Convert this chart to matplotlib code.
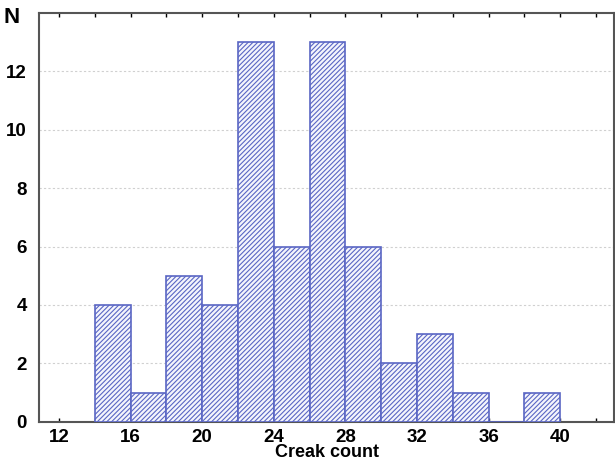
import numpy as np
import matplotlib
matplotlib.use("Agg")
import matplotlib.pyplot as plt

# histogram of creak counts, bin width 2
bin_left = [14, 16, 18, 20, 22, 24, 26, 28, 30, 32, 34, 36, 38]
counts = [4, 1, 5, 4, 13, 6, 13, 6, 2, 3, 1, 0, 1]
xticks = [12, 16, 20, 24, 28, 32, 36, 40]
yticks = [0, 2, 4, 6, 8, 10, 12]

plt.rcParams['font.family'] = ['Liberation Sans', 'DejaVu Sans']
plt.rcParams['hatch.linewidth'] = 0.8
plt.rcParams['hatch.color'] = '#5a66c4'

fig = plt.figure(figsize=(6.15, 4.63), dpi=100)
ax = fig.add_axes([0.064, 0.089, 0.934, 0.883])

ax.bar(bin_left, counts, width=2, align='edge', color='#f4f5fc',
       edgecolor='#5a66c4', linewidth=1.2, hatch='///////', zorder=3)

ax.set_xlim(10.9, 43.0)
ax.set_ylim(0, 14)
ax.set_xticks(xticks)
ax.set_xticks(np.arange(12, 43, 2), minor=True)
ax.set_yticks(yticks)
ax.yaxis.grid(True, linestyle=(0, (2, 2)), color='#d0d0d0', linewidth=0.8, zorder=0)

for lab in ax.get_xticklabels() + ax.get_yticklabels():
    lab.set_fontweight('bold')
    lab.set_fontsize(13.5)
ax.tick_params(axis='x', which='both', direction='in', top=True, length=3, width=1, pad=5)
ax.tick_params(axis='y', direction='in', length=0, pad=9)

for s in ax.spines.values():
    s.set_color('#555555')
    s.set_linewidth(1.5)

ax.text(-0.035, 0.99, 'N', transform=ax.transAxes, ha='right', va='center',
        fontsize=16, fontweight='bold')
ax.set_xlabel('Creak count', fontsize=13, fontweight='bold', labelpad=-1)

fig.savefig('out.png', dpi=100)
